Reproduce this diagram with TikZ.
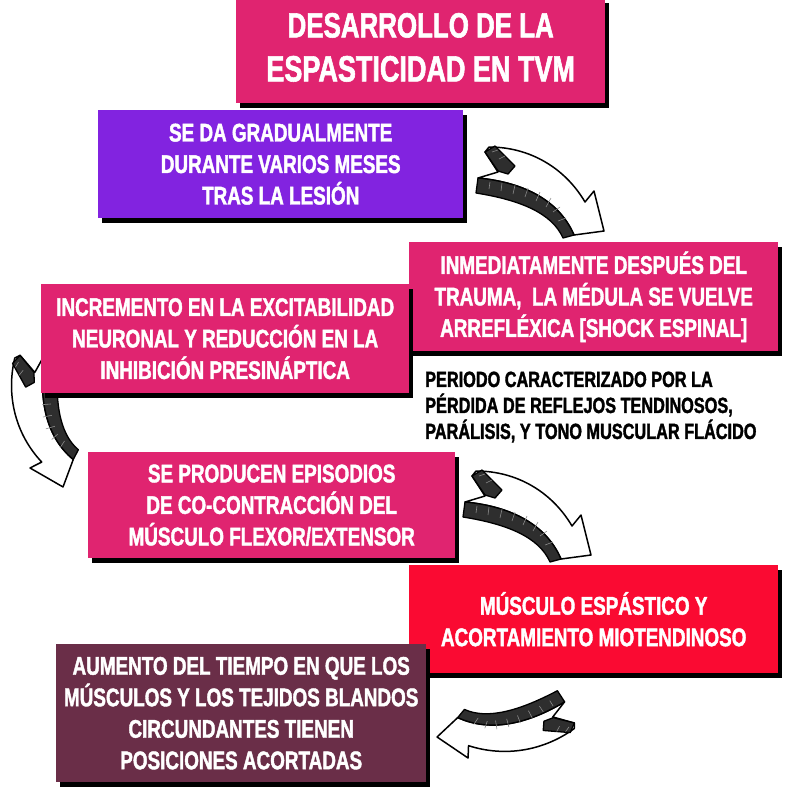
\documentclass[tikz,border=0pt]{standalone}
\usepackage{fontspec}
\newfontfamily\imp{Liberation Sans}[FakeStretch=0.74,FakeBold=1.6]
\usetikzlibrary{shadows}
\definecolor{tpink}{HTML}{E02470}
\definecolor{tpurple}{HTML}{8223E0}
\definecolor{tred}{HTML}{FA0A32}
\definecolor{tmaroon}{HTML}{6A2E48}
\tikzset{
  box/.style={inner sep=0pt, text=white, align=center, anchor=north west,
    font=\imp\bfseries\fontsize{25.5}{31.5}\selectfont,
    drop shadow={shadow xshift=4pt, shadow yshift=-5pt, fill=black, opacity=1}},
  arrline/.style={draw=black, line width=1.5pt, line join=round},
  band/.style={fill=black!82, draw=black, line width=1.3pt, line join=round},
  streak/.style={draw=white!55!black, line width=0.6pt},
}
\newcommand\ribbonarrow{%
  \fill[white] (489,147) .. controls (530,147) and (565,168) .. (585,202)
    -- (594,191) -- (604,231) -- (574,235)
    .. controls (558,198) and (520,182) .. (478,178) -- (498,172) -- (485,152) -- cycle;
  \draw[arrline] (489,147) .. controls (530,147) and (565,168) .. (585,202)
    -- (594,191) -- (604,231) -- (574,235)
    .. controls (558,198) and (520,182) .. (478,178) -- (498,172) -- (485,152) -- cycle;
  \filldraw[band] (478,178) .. controls (520,182) and (558,198) .. (574,235)
    -- (563,238) .. controls (552,213) and (520,200) .. (476,193) -- cycle;
  \draw[streak] (490,182) -- (489,189) (502,183) -- (501,191) (515,185) -- (513,194)
    (528,188) -- (525,197) (540,192) -- (536,201) (551,198) -- (546,207)
    (560,207) -- (553,212) (566,218) -- (558,221);
  \filldraw[band] (485,152) -- (495,146) -- (515,166) -- (508,174) -- (498,171) -- cycle;
  \draw[streak] (492,152) -- (498,150) (499,159) -- (505,156);
}
\begin{document}
\begin{tikzpicture}[x=1pt,y=-1pt]
\useasboundingbox[fill=white] (0,0) rectangle (800,788);
% arrows
\begin{scope} \ribbonarrow \end{scope}
\begin{scope}[shift={(-13,324)}] \ribbonarrow \end{scope}
\begin{scope}[shift={(15,357)}, cm={-0.224,-0.948,-0.881,0.238,(0,0)}, shift={(-488,-147)}] \ribbonarrow \end{scope}
\begin{scope}[shift={(575,728)}, cm={-0.767,-0.559,0.583,-0.665,(0,0)}, shift={(-488,-147)}] \ribbonarrow \end{scope}
% boxes
\node[box, fill=tpink, minimum width=369pt, minimum height=105pt,
  font=\imp\bfseries\fontsize{35}{44}\selectfont] (title) at (236,-2)
  {DESARROLLO DE LA\\{\fontsize{36.5}{44}\selectfont ESPASTICIDAD EN TVM}\rule[-7pt]{0pt}{0pt}};
\node[box, fill=tpurple, minimum width=365pt, minimum height=108pt] (gradual) at (98,110)
  {SE DA GRADUALMENTE\\DURANTE VARIOS MESES\\TRAS LA LESIÓN};
\node[box, fill=tpink, minimum width=369pt, minimum height=109pt] (shock) at (409,242)
  {INMEDIATAMENTE DESPUÉS DEL\\TRAUMA, \ LA MÉDULA SE VUELVE\\ARREFLÉXICA [SHOCK ESPINAL]};
\node[box, fill=tpink, minimum width=368pt, minimum height=109pt] (incr) at (41,284)
  {INCREMENTO EN LA EXCITABILIDAD\\NEURONAL Y REDUCCIÓN EN LA\\INHIBICIÓN PRESINÁPTICA};
\node[inner sep=0pt, anchor=west, align=left, text=black,
  font=\imp\bfseries\fontsize{22}{26}\selectfont] (periodo) at (425,407)
  {PERIODO CARACTERIZADO POR LA\\PÉRDIDA DE REFLEJOS TENDINOSOS,\\PARÁLISIS, Y TONO MUSCULAR FLÁCIDO};
\node[box, fill=tpink, minimum width=367pt, minimum height=106pt] (cocon) at (88,452)
  {SE PRODUCEN EPISODIOS\\DE CO-CONTRACCIÓN DEL\\MÚSCULO FLEXOR/EXTENSOR};
\node[box, fill=tred, minimum width=369pt, minimum height=108pt] (espas) at (409,565)
  {MÚSCULO ESPÁSTICO Y\\ACORTAMIENTO MIOTENDINOSO};
\node[box, fill=tmaroon, minimum width=370pt, minimum height=138pt] (aumento) at (56,644)
  {AUMENTO DEL TIEMPO EN QUE LOS\\MÚSCULOS Y LOS TEJIDOS BLANDOS\\CIRCUNDANTES TIENEN\\POSICIONES ACORTADAS};
\end{tikzpicture}
\end{document}
